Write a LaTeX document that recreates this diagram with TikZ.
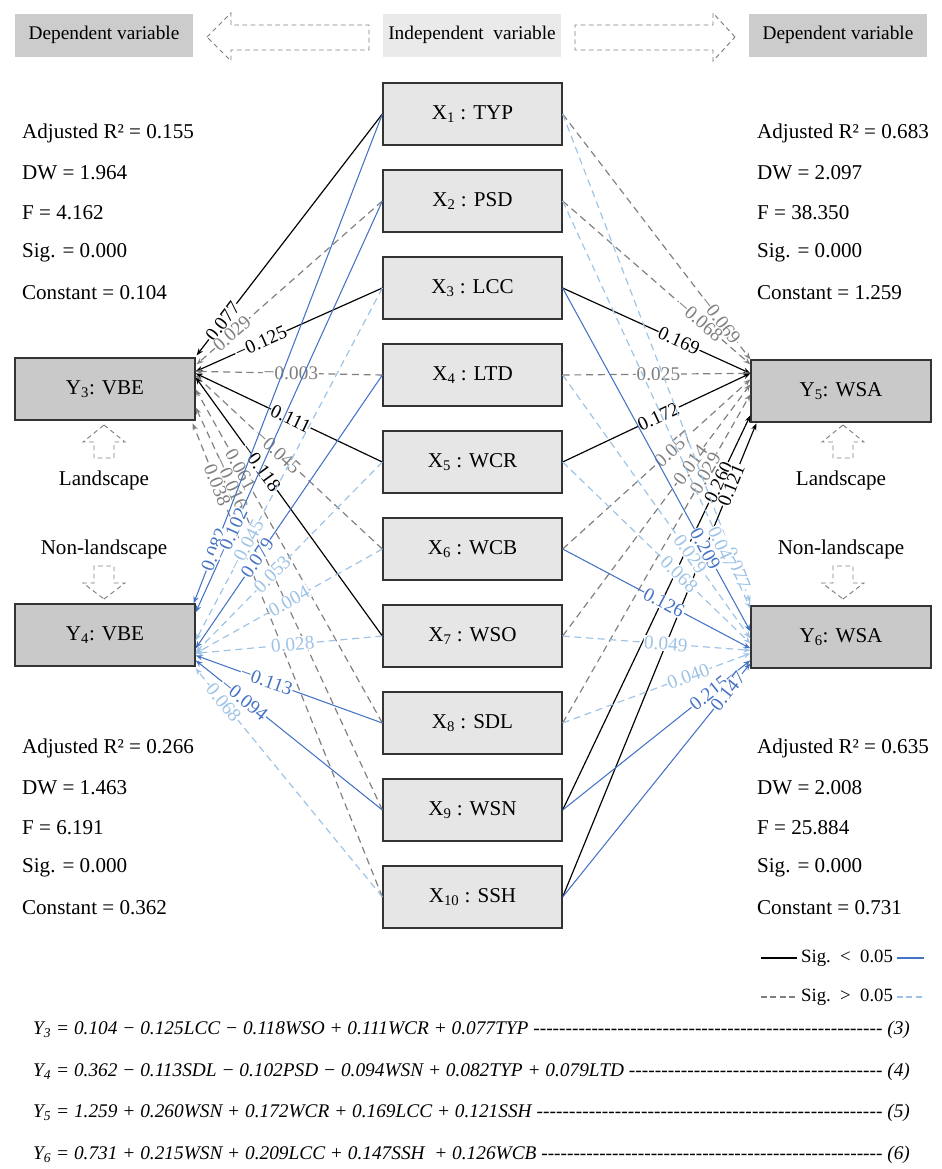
\documentclass[tikz,border=0pt]{standalone}
\usepackage{fontspec}
\setmainfont{Liberation Serif}
\usepackage{xcolor}
\usetikzlibrary{positioning,calc,arrows.meta}

\definecolor{xfill}{HTML}{E7E6E6}
\definecolor{yfill}{HTML}{C9C9C9}
\definecolor{hdfill}{HTML}{CDCCCC}
\definecolor{hdlight}{HTML}{EAEAEA}
\definecolor{sigblue}{HTML}{4472C4}
\definecolor{nsblue}{HTML}{9DC3E6}
\definecolor{nsgray}{HTML}{7F7F7F}

\tikzset{
  xbox/.style={draw=black!80, line width=1.1pt, fill=xfill, minimum width=5.37cm, minimum height=1.86cm, font=\fontsize{18}{22}\selectfont},
  ybox/.style={xbox, fill=yfill, minimum width=5.4cm},
  hdbox/.style={fill=hdfill, minimum width=5.34cm, minimum height=1.29cm, font=\fontsize{16.5}{20}\selectfont},
  stat/.style={anchor=west, font=\fontsize{18}{22}\selectfont},
  blockarr/.style={draw=nsgray, line width=0.8pt, dash pattern=on 4pt off 3pt},
  tip/.style={-{Stealth[length=6pt,width=4.5pt]}},
  sigk/.style={tip, color=black, line width=1pt},
  nsk/.style={tip, color=nsgray, line width=1pt, dash pattern=on 6pt off 4pt},
  sigb/.style={tip, color=sigblue, line width=0.9pt},
  nsb/.style={tip, color=nsblue, line width=1pt, dash pattern=on 6pt off 4pt},
  coef/.style={sloped, fill=white, inner sep=0.6pt, font=\fontsize{16.5}{16.5}\selectfont},
  eqn/.style={anchor=west, inner sep=0pt, font=\fontsize{16.5}{18}\selectfont\itshape}
}

\begin{document}
\begin{tikzpicture}[x=0.03cm, y=-0.03cm]
\useasboundingbox (0,0) rectangle (941,1169);

% header
\node[hdbox] (dep1) at (104,35) {Dependent variable};
\node[hdbox, fill=hdlight] (ind) at (472,35) {Independent\ \ variable};
\node[hdbox] (dep2) at (838,35) {Dependent variable};
\draw[blockarr] (207,37) -- (231,13) -- (231,25) -- (369,25) -- (369,50) -- (231,50) -- (231,61) -- cycle;
\draw[blockarr] (735,37) -- (713,13) -- (713,25) -- (575,25) -- (575,50) -- (713,50) -- (713,61) -- cycle;

% independent variables
\foreach \n [count=\i] in {TYP,PSD,LCC,LTD,WCR,WCB,WSO,SDL,WSN,SSH}
  \node[xbox] (X\i) at (472.5,{114+87*(\i-1)}) {X\textsubscript{\i} : \n};

% dependent variables
\node[ybox] (Y3) at (105,389) {Y\textsubscript{3}: VBE};
\node[ybox] (Y4) at (105,635) {Y\textsubscript{4}: VBE};
\node[ybox] (Y5) at (841,391) {Y\textsubscript{5}: WSA};
\node[ybox] (Y6) at (841,637) {Y\textsubscript{6}: WSA};

% landscape / non-landscape
\foreach \cx in {104,843} {
  \draw[blockarr] (\cx,425) -- (\cx+21,442) -- (\cx+10,442) -- (\cx+10,458) -- (\cx-10,458) -- (\cx-10,442) -- (\cx-21,442) -- cycle;
  \draw[blockarr] (\cx,599) -- (\cx+21,583) -- (\cx+10,583) -- (\cx+10,566) -- (\cx-10,566) -- (\cx-10,583) -- (\cx-21,583) -- cycle;
}
\node[stat, anchor=center] (landL) at (104,480) {Landscape};
\node[stat, anchor=center] (nonlL) at (104,549) {Non-landscape};
\node[stat, anchor=center] (landR) at (841,480) {Landscape};
\node[stat, anchor=center] (nonlR) at (841,549) {Non-landscape};

% model statistics
\foreach \t [count=\k] in {Adjusted R² = 0.155, DW = 1.964, F = 4.162, Sig. = 0.000, Constant = 0.104}
  \node[stat] (la\k) at (18,{133+40*(\k-1)}) {\t};
\foreach \t [count=\k] in {Adjusted R² = 0.266, DW = 1.463, F = 6.191, Sig. = 0.000, Constant = 0.362}
  \node[stat] (lb\k) at (18,{748+40*(\k-1)}) {\t};
\foreach \t [count=\k] in {Adjusted R² = 0.683, DW = 2.097, F = 38.350, Sig. = 0.000, Constant = 1.259}
  \node[stat] (ra\k) at (753,{133+40*(\k-1)}) {\t};
\foreach \t [count=\k] in {Adjusted R² = 0.635, DW = 2.008, F = 25.884, Sig. = 0.000, Constant = 0.731}
  \node[stat] (rb\k) at (753,{748+40*(\k-1)}) {\t};

% coefficients to Y3
\foreach \i/\dx/\dy/\sty/\lab/\ps in {1/1/-2/sigk/0.077/0.86, 2/1/7/nsk/0.029/0.81, 3/0/14/sigk/−0.125/0.65,
    4/0/14/nsk/−0.003/0.49, 5/0/16/sigk/0.111/0.49, 6/0/18/nsk/−0.045/0.56, 7/0/20/sigk/−0.118/0.65,
    8/0/32/nsk/0.061/0.76, 9/0/50/nsk/−0.016/0.81, 10/-3/66/nsk/0.038/0.87}
  \draw[\sty] (X\i.west) -- ($(Y3.north east)+(\dx,\dy)$) node[coef, pos=\ps] {\lab};

% coefficients to Y4
\foreach \i/\dx/\dy/\sty/\lab/\ps in {1/-2/0/sigb/0.082/0.89, 2/0/9/sigb/−0.102/0.81, 3/0/37/nsb/−0.045/0.73,
    4/0/45/sigb/0.079/0.67, 5/0/49/nsb/0.053/0.59, 6/0/50/nsb/0.004/0.5, 7/0/50/nsb/0.028/0.48,
    8/0/52/sigb/−0.113/0.62, 9/0/57/sigb/−0.094/0.74, 10/0/65/nsb/0.068/0.85}
  \draw[\sty] (X\i.west) -- ($(Y4.north east)+(\dx,\dy)$) node[coef, pos=\ps] {\lab};

% coefficients to Y5
\foreach \i/\dx/\dy/\sty/\lab/\ps in {1/0/0/nsk/−0.069/0.84, 2/0/5/nsk/−0.068/0.73, 3/0/14/sigk/0.169/0.62,
    4/0/14/nsk/0.025/0.51, 5/0/14/sigk/0.172/0.51, 6/0/20/nsk/0.057/0.59, 7/0/25/nsk/0.014/0.68,
    8/0/35/nsk/0.029/0.76, 9/0/56/sigk/0.260/0.83, 10/6/64/sigk/0.121/0.87}
  \draw[\sty] (X\i.east) -- ($(Y5.north west)+(\dx,\dy)$) node[coef, pos=\ps] {\lab};

% coefficients to Y6
\foreach \i/\dx/\dy/\sty/\lab/\ps in {1/0/-3/nsb/−0.077/0.92, 2/0/3/nsb/0.047/0.85, 3/0/26/sigb/0.209/0.76,
    4/0/33/nsb/0.029/0.68, 5/0/38/nsb/0.068/0.62, 6/0/43/sigb/0.126/0.54, 7/0/45/nsb/0.049/0.55,
    8/0/48/nsb/0.040/0.67, 9/0/55/sigb/0.215/0.78, 10/0/58/sigb/0.147/0.88}
  \draw[\sty] (X\i.east) -- ($(Y6.north west)+(\dx,\dy)$) node[coef, pos=\ps] {\lab};

% legend
\node[anchor=west, font=\fontsize{16}{18}\selectfont] (sigA) at (797,958) {Sig.\ \ <\ \ 0.05};
\node[anchor=west, font=\fontsize{16}{18}\selectfont] (sigB) at (797,997) {Sig.\ \ >\ \ 0.05};
\coordinate (la) at (761,958); \coordinate (lb) at (761,997);
\coordinate (ra) at (924,958); \coordinate (rb) at (924,997);
\draw[black, line width=1pt] (la) -- (la -| sigA.west);
\draw[sigblue, line width=1pt] (sigA.east) -- (ra);
\draw[nsgray, line width=1pt, dash pattern=on 5pt off 3pt] (lb) -- (lb -| sigB.west);
\draw[nsblue, line width=1pt, dash pattern=on 5pt off 3pt] (sigB.east) -- (rb);

% regression equations
\node[eqn] (eq3) at (33,1030) {\hbox to 26.3cm{Y\textsubscript{3} = 0.104 − 0.125LCC − 0.118WSO + 0.111WCR + 0.077TYP \xleaders\hbox{-}\hfill\ (3)}};
\node[eqn] (eq4) at (33,1072) {\hbox to 26.3cm{Y\textsubscript{4} = 0.362 − 0.113SDL − 0.102PSD − 0.094WSN + 0.082TYP + 0.079LTD \xleaders\hbox{-}\hfill\ (4)}};
\node[eqn] (eq5) at (33,1113) {\hbox to 26.3cm{Y\textsubscript{5} = 1.259 + 0.260WSN + 0.172WCR + 0.169LCC + 0.121SSH \xleaders\hbox{-}\hfill\ (5)}};
\node[eqn] (eq6) at (33,1155) {\hbox to 26.3cm{Y\textsubscript{6} = 0.731 + 0.215WSN + 0.209LCC + 0.147SSH\ \ + 0.126WCB \xleaders\hbox{-}\hfill\ (6)}};
\end{tikzpicture}
\end{document}
